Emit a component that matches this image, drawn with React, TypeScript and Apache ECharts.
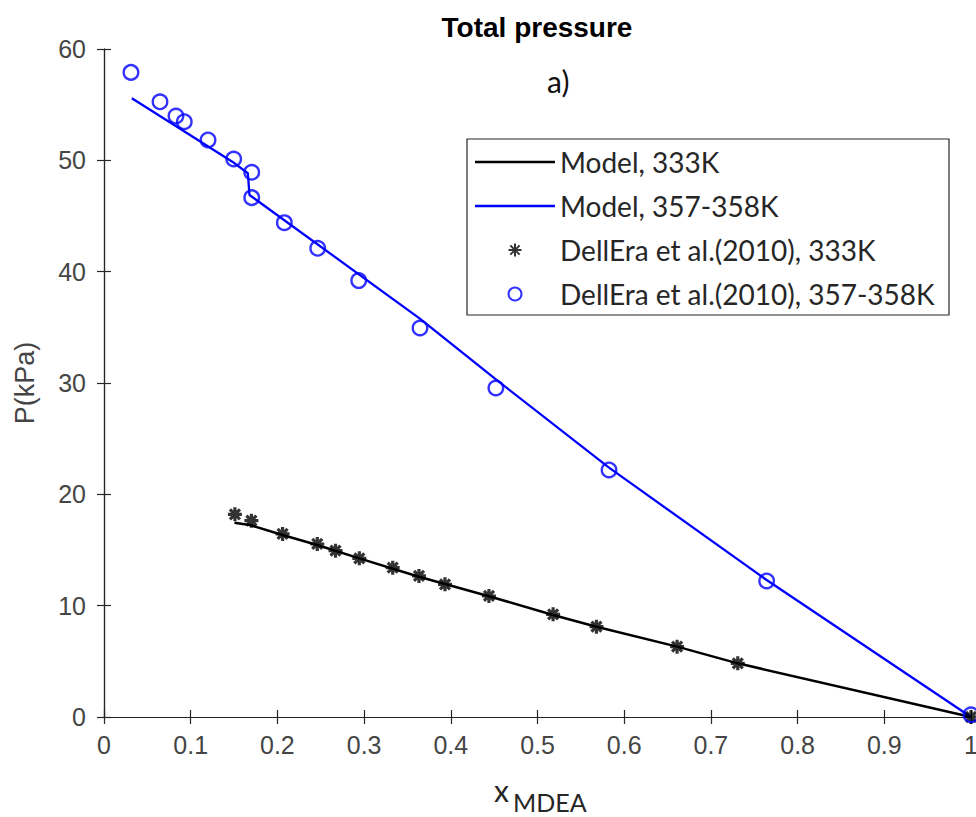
import React, { useEffect, useRef } from 'react';
import * as echarts from 'echarts';

// Model curves
const model333X = [0.1505, 0.168, 0.206, 0.246, 0.2945, 0.3633, 0.444, 0.518, 0.568, 0.661, 0.731, 1.0];
const model333P = [17.45, 17.25, 16.35, 15.45, 14.25, 12.6, 10.85, 9.16, 8.11, 6.32, 4.82, 0.0];

const model357X = [0.0321, 0.148, 0.1659, 0.1678, 0.3639, 0.4524, 0.5825, 0.7643, 1.0];
const model357P = [55.57, 49.88, 48.84, 46.89, 35.81, 30.3, 22.4, 12.3, 0.0];

// Experimental data, DellEra et al. (2010)
const dell333X = [0.151, 0.17, 0.206, 0.246, 0.267, 0.2945, 0.333, 0.3633, 0.3933, 0.444, 0.518, 0.568, 0.661, 0.731, 1.0];
const dell333P = [18.2, 17.63, 16.44, 15.54, 14.94, 14.25, 13.41, 12.67, 11.92, 10.87, 9.22, 8.11, 6.32, 4.82, 0.0];

const dell357X = [0.0311, 0.0646, 0.083, 0.0926, 0.12, 0.1496, 0.1704, 0.1704, 0.208, 0.2465, 0.2938, 0.3645, 0.452, 0.5825, 0.7643, 1.0];
const dell357P = [57.9, 55.26, 53.98, 53.47, 51.83, 50.12, 48.93, 46.65, 44.4, 42.1, 39.2, 34.94, 29.55, 22.19, 12.22, 0.2];

const seriesNames = [
  'Model, 333K',
  'Model, 357-358K',
  'DellEra et al.(2010), 333K',
  'DellEra et al.(2010), 357-358K',
];

const zip = (xs: number[], ys: number[]) => xs.map((x, i) => [x, ys[i]]);

const STAR = 'path://M0,7L14,7M7,0L7,14M2,2L12,12M2,12L12,2';
const LINE_ICON = 'path://M0,0L80,0L80,2.4L0,2.4Z';
const AXIS_COLOR = '#262626';
const LABEL_COLOR = '#454545';

export default function App() {
  const ref = useRef<HTMLDivElement>(null);
  useEffect(() => {
    document.body.style.margin = '0';
    if (!ref.current) return;
    const chart = echarts.init(ref.current, undefined, { renderer: 'svg' });
    const xAxisBase = {
      type: 'value',
      min: 0,
      max: 1,
      interval: 0.1,
      splitLine: { show: false },
      axisLine: { show: true, lineStyle: { color: AXIS_COLOR, width: 1.2 } },
      axisTick: { show: true, inside: true, length: 7, lineStyle: { color: AXIS_COLOR, width: 1.2 } },
    };
    const yAxisBase = {
      type: 'value',
      min: 0,
      max: 60,
      interval: 10,
      splitLine: { show: false },
      axisLine: { show: true, lineStyle: { color: AXIS_COLOR, width: 1.2 } },
      axisTick: { show: true, inside: true, length: 7, lineStyle: { color: AXIS_COLOR, width: 1.2 } },
    };
    chart.setOption({
      animation: false,
      backgroundColor: '#ffffff',
      grid: { left: 104, right: 5, top: 49, bottom: 100, outerBoundsMode: 'none', containLabel: false },
      xAxis: [
        {
          ...xAxisBase,
          position: 'bottom',
          axisLabel: { show: true, color: LABEL_COLOR, fontSize: 25, fontFamily: 'Liberation Sans', margin: 15 },
        },
        { ...xAxisBase, position: 'top', axisLabel: { show: false } },
      ],
      yAxis: [
        {
          ...yAxisBase,
          position: 'left',
          axisLabel: { show: true, color: LABEL_COLOR, fontSize: 25, fontFamily: 'Liberation Sans', margin: 18 },
          name: 'P(kPa)',
          nameLocation: 'middle',
          nameRotate: 90,
          nameGap: 66,
          nameTextStyle: { color: LABEL_COLOR, fontSize: 27, fontFamily: 'Liberation Sans' },
        },
        { ...yAxisBase, position: 'right', axisLabel: { show: false } },
      ],
      legend: {
        show: true,
        orient: 'vertical',
        left: 467,
        top: 139,
        padding: [8, 8, 8, 8],
        itemGap: 14,
        itemWidth: 80,
        itemHeight: 13,
        borderWidth: 0,
        backgroundColor: 'rgba(0,0,0,0)',
        data: [
          { name: seriesNames[0], icon: LINE_ICON, itemStyle: { color: '#000000', borderWidth: 0 } },
          { name: seriesNames[1], icon: LINE_ICON, itemStyle: { color: '#0000ff', borderWidth: 0 } },
          { name: seriesNames[2] },
          { name: seriesNames[3] },
        ],
        textStyle: { fontSize: 28, fontFamily: 'Lato', color: '#262626', lineHeight: 30 },
      },
      graphic: [
        {
          type: 'rect',
          shape: { x: 467, y: 139, width: 482, height: 176 },
          style: { fill: 'rgba(255,255,255,0)', stroke: '#262626', lineWidth: 1.2 },
          z: 100,
          silent: true,
        },
        {
          type: 'text',
          x: 537,
          y: 27,
          style: { text: 'Total pressure', fontSize: 28, fontWeight: 'bold', fontFamily: 'Liberation Sans', fill: '#000', textAlign: 'center', textVerticalAlign: 'middle' },
        },
        {
          type: 'text',
          x: 547,
          y: 66,
          style: { text: 'a)', fontSize: 30, fontFamily: 'Lato', fill: '#111' },
        },
        {
          type: 'text',
          x: 494,
          y: 775,
          style: { text: 'x', fontSize: 30, fontFamily: 'Lato', fill: '#262626' },
        },
        {
          type: 'text',
          x: 513,
          y: 789,
          style: { text: 'MDEA', fontSize: 25, fontFamily: 'Lato', fill: '#262626' },
        },
      ],
      series: [
        {
          name: seriesNames[0],
          type: 'line',
          data: zip(model333X, model333P),
          showSymbol: false,
          symbol: 'none',
          lineStyle: { color: '#000000', width: 2.5 },
          itemStyle: { color: '#000000' },
          z: 2,
        },
        {
          name: seriesNames[1],
          type: 'line',
          data: zip(model357X, model357P),
          showSymbol: false,
          symbol: 'none',
          lineStyle: { color: '#0000ff', width: 2.3 },
          itemStyle: { color: '#0000ff' },
          z: 2,
        },
        {
          name: seriesNames[2],
          type: 'scatter',
          data: zip(dell333X, dell333P),
          symbol: STAR,
          symbolSize: 14,
          itemStyle: { color: '#000000', borderColor: '#000000', borderWidth: 3.2 },
          z: 3,
        },
        {
          name: seriesNames[3],
          type: 'scatter',
          data: zip(dell357X, dell357P),
          symbol: 'circle',
          symbolSize: 14.5,
          itemStyle: { color: 'rgba(0,0,0,0)', borderColor: '#0000ff', borderWidth: 2.4 },
          z: 3,
        },
      ],
    });
    return () => chart.dispose();
  }, []);
  return <div ref={ref} style={{ width: 976, height: 817 }} />;
}
